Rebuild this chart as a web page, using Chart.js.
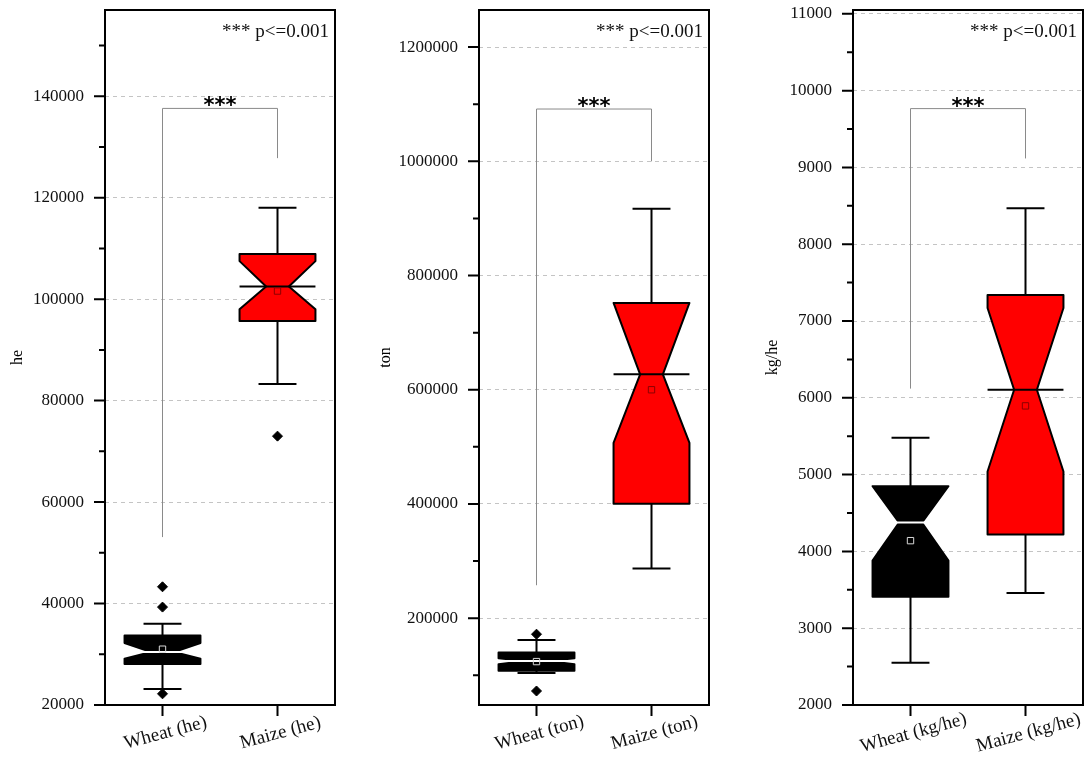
<!DOCTYPE html>
<html lang="en">
<head>
<meta charset="UTF-8" />
<title>Wheat vs Maize</title>
<style>
  body { margin: 0; background: #fff; }
  canvas { position: absolute; top: 0; }
</style>
</head>
<body>
<canvas id="he" width="345" height="758" style="left:0px"></canvas>
<canvas id="ton" width="360" height="758" style="left:360px"></canvas>
<canvas id="kg" width="357" height="758" style="left:735px"></canvas>
<script src="https://cdn.jsdelivr.net/npm/chart.js"></script>
<script>
// area harvested (he)
const heLabels = ["Wheat (he)", "Maize (he)"];
const heMin = [23150, 83300];
const heQ1 = [28100, 95700];
const heMedian = [30450, 102500];
const heQ3 = [33700, 108900];
const heMax = [36000, 118000];
const heMean = [31000, 101600];
const heNotchLow = [29100, 98000];
const heNotchHigh = [32200, 107500];
const heOutliers = [[43300, 39300, 22200], [73000]];
const heBracket = [53100, 137600, 127800];
const heTicks = [20000, 40000, 60000, 80000, 100000, 120000, 140000];
const heMinor = [30000, 50000, 70000, 90000, 110000, 130000, 150000];

// production (ton)
const tonLabels = ["Wheat (ton)", "Maize (ton)"];
const tonMin = [104000, 287000];
const tonQ1 = [108000, 400500];
const tonMedian = [125000, 627000];
const tonQ3 = [140000, 752000];
const tonMax = [162000, 917000];
const tonMean = [124000, 600000];
const tonNotchLow = [119500, 507000];
const tonNotchHigh = [130000, 760000];
const tonOutliers = [[172000, 72500], []];
const tonBracket = [257700, 1091600, 1000000];
const tonTicks = [200000, 400000, 600000, 800000, 1000000, 1200000];
const tonMinor = [100000, 300000, 500000, 700000, 900000, 1100000];

// yield (kg/he)
const kgLabels = ["Wheat (kg/he)", "Maize (kg/he)"];
const kgMin = [2550, 3460];
const kgQ1 = [3410, 4220];
const kgMedian = [4375, 6105];
const kgQ3 = [4850, 7340];
const kgMax = [5480, 8470];
const kgMean = [4140, 5895];
const kgNotchLow = [3880, 5040];
const kgNotchHigh = [4900, 7170];
const kgOutliers = [[], []];
const kgBracket = [6120, 9766, 9117];
const kgTicks = [2000, 3000, 4000, 5000, 6000, 7000, 8000, 9000, 10000, 11000];
const kgMinor = [2500, 3500, 4500, 5500, 6500, 7500, 8500, 9500, 10500];

const boxFill = ["#000000", "#ff0000"];
const medianColor = ["#ffffff", "#000000"];
const meanColor = ["#d8d8d8", "#8b0000"];
const serif = "'Liberation Serif', 'Times New Roman', serif";

function makePanel(id, p) {
  const boxPlugin = {
    id: "notchBox",
    beforeDatasetsDraw(chart) {
      const { ctx, scales: { x, y } } = chart;
      const step = x.getPixelForValue(1) - x.getPixelForValue(0);
      const hw = step * 0.33, pw = hw * 0.3, cw = hw * 0.5;
      ctx.save();
      ctx.lineWidth = 2;
      ctx.lineJoin = "round";
      p.q1.forEach((_, i) => {
        const cx = x.getPixelForValue(i);
        const yMin = y.getPixelForValue(p.min[i]);
        const yMax = y.getPixelForValue(p.max[i]);
        const yQ1 = y.getPixelForValue(p.q1[i]);
        const yQ3 = y.getPixelForValue(p.q3[i]);
        const yMed = y.getPixelForValue(p.median[i]);
        const nH = y.getPixelForValue(Math.min(p.notchHigh[i], p.q3[i]));
        const nL = y.getPixelForValue(Math.max(p.notchLow[i], p.q1[i]));
        ctx.strokeStyle = "#000";
        ctx.beginPath();
        ctx.moveTo(cx, yQ3); ctx.lineTo(cx, yMax);
        ctx.moveTo(cx - cw, yMax); ctx.lineTo(cx + cw, yMax);
        ctx.moveTo(cx, yQ1); ctx.lineTo(cx, yMin);
        ctx.moveTo(cx - cw, yMin); ctx.lineTo(cx + cw, yMin);
        ctx.stroke();
        ctx.beginPath();
        ctx.moveTo(cx - hw, yQ3); ctx.lineTo(cx + hw, yQ3);
        ctx.lineTo(cx + hw, nH); ctx.lineTo(cx + pw, yMed); ctx.lineTo(cx + hw, nL);
        ctx.lineTo(cx + hw, yQ1); ctx.lineTo(cx - hw, yQ1);
        ctx.lineTo(cx - hw, nL); ctx.lineTo(cx - pw, yMed); ctx.lineTo(cx - hw, nH);
        ctx.closePath();
        ctx.fillStyle = boxFill[i];
        ctx.fill();
        ctx.stroke();
        ctx.strokeStyle = medianColor[i];
        ctx.beginPath();
        ctx.moveTo(cx - hw, yMed); ctx.lineTo(cx + hw, yMed);
        ctx.stroke();
      });
      ctx.restore();
    },
    afterDraw(chart) {
      const { ctx, chartArea: a, scales: { x, y } } = chart;
      ctx.save();
      // significance bracket
      const x0 = x.getPixelForValue(0), x1 = x.getPixelForValue(1);
      const [b0, bt, b1] = p.bracket.map(v => y.getPixelForValue(v));
      ctx.strokeStyle = "#8a8a8a";
      ctx.lineWidth = 1;
      ctx.beginPath();
      ctx.moveTo(x0, b0); ctx.lineTo(x0, bt); ctx.lineTo(x1, bt); ctx.lineTo(x1, b1);
      ctx.stroke();
      ctx.fillStyle = "#000";
      ctx.font = "bold 21px 'DejaVu Sans'";
      ctx.textAlign = "center";
      ctx.textBaseline = "alphabetic";
      const m = ctx.measureText("***");
      ctx.fillText("***", (x0 + x1) / 2, bt - 2 - m.actualBoundingBoxDescent);
      ctx.font = "19px " + serif;
      ctx.textAlign = "right";
      ctx.fillStyle = "#111";
      ctx.fillText("*** p<=0.001", a.right - 6, a.top + 27);
      // frame and ticks
      ctx.strokeStyle = "#000";
      ctx.lineWidth = 2;
      ctx.strokeRect(a.left, a.top, a.right - a.left, a.bottom - a.top);
      ctx.beginPath();
      p.ticks.forEach(v => {
        const py = y.getPixelForValue(v);
        ctx.moveTo(a.left - 11, py); ctx.lineTo(a.left, py);
      });
      p.minor.forEach(v => {
        const py = y.getPixelForValue(v);
        ctx.moveTo(a.left - 6, py); ctx.lineTo(a.left, py);
      });
      p.labels.forEach((_, i) => {
        const px = x.getPixelForValue(i);
        ctx.moveTo(px, a.bottom); ctx.lineTo(px, a.bottom + 11);
      });
      ctx.stroke();
      // rotated category labels
      ctx.font = "19px " + serif;
      ctx.textAlign = "center";
      ctx.textBaseline = "middle";
      p.labels.forEach((lab, i) => {
        const px = x.getPixelForValue(i);
        ctx.save();
        ctx.translate(px + 3, a.bottom + 28);
        ctx.rotate(-15 * Math.PI / 180);
        ctx.fillText(lab, 0, 0);
        ctx.restore();
      });
      ctx.restore();
    }
  };

  const outlierPoints = [];
  p.outliers.forEach((list, i) => list.forEach(v => outlierPoints.push({ x: p.labels[i], y: v })));

  new Chart(document.getElementById(id), {
    type: "line",
    data: {
      labels: p.labels,
      datasets: [
        {
          data: p.mean, showLine: false, pointStyle: "rect", pointRadius: 4.5,
          pointBorderWidth: 1, pointBorderColor: meanColor, pointBackgroundColor: "rgba(0,0,0,0)"
        },
        {
          data: outlierPoints, showLine: false, pointStyle: "rectRot", pointRadius: 5,
          pointBorderWidth: 1, pointBorderColor: "#000", pointBackgroundColor: "#000"
        }
      ]
    },
    options: {
      responsive: false,
      animation: false,
      events: [],
      layout: { padding: { top: 10, right: p.padRight, left: 0, bottom: 0 } },
      plugins: { legend: { display: false }, tooltip: { enabled: false } },
      scales: {
        x: {
          type: "category", offset: true,
          grid: { display: false }, border: { display: false },
          ticks: { display: false },
          afterFit: s => { s.height = 53; s.paddingLeft = 0; s.paddingRight = 0; }
        },
        y: {
          min: p.yMin, max: p.yMax,
          afterBuildTicks: s => { s.ticks = p.ticks.map(v => ({ value: v })); },
          afterFit: s => { s.width = p.axisWidth; s.paddingTop = 0; s.paddingBottom = 0; },
          grid: { color: "#c4c4c4", lineWidth: 1, drawTicks: false },
          border: { display: false, dash: [4, 4] },
          ticks: {
            padding: 21, autoSkip: false, color: "#111",
            font: { family: serif, size: 17 },
            callback: v => String(v)
          },
          title: {
            display: true, text: p.unit, color: "#000",
            font: { family: serif, size: 16 },
            padding: { top: p.titlePad, bottom: 0 }
          }
        }
      }
    },
    plugins: [boxPlugin]
  });
}

makePanel("he", {
  labels: heLabels, min: heMin, q1: heQ1, median: heMedian, q3: heQ3, max: heMax,
  mean: heMean, notchLow: heNotchLow, notchHigh: heNotchHigh, outliers: heOutliers,
  bracket: heBracket, ticks: heTicks, minor: heMinor,
  yMin: 20000, yMax: 157000, unit: "he", axisWidth: 105, padRight: 10, titlePad: 8
});
makePanel("ton", {
  labels: tonLabels, min: tonMin, q1: tonQ1, median: tonMedian, q3: tonQ3, max: tonMax,
  mean: tonMean, notchLow: tonNotchLow, notchHigh: tonNotchHigh, outliers: tonOutliers,
  bracket: tonBracket, ticks: tonTicks, minor: tonMinor,
  yMin: 48000, yMax: 1265000, unit: "ton", axisWidth: 119, padRight: 11, titlePad: 16
});
makePanel("kg", {
  labels: kgLabels, min: kgMin, q1: kgQ1, median: kgMedian, q3: kgQ3, max: kgMax,
  mean: kgMean, notchLow: kgNotchLow, notchHigh: kgNotchHigh, outliers: kgOutliers,
  bracket: kgBracket, ticks: kgTicks, minor: kgMinor,
  yMin: 2000, yMax: 11050, unit: "kg/he", axisWidth: 118, padRight: 9, titlePad: 28
});
</script>
</body>
</html>
